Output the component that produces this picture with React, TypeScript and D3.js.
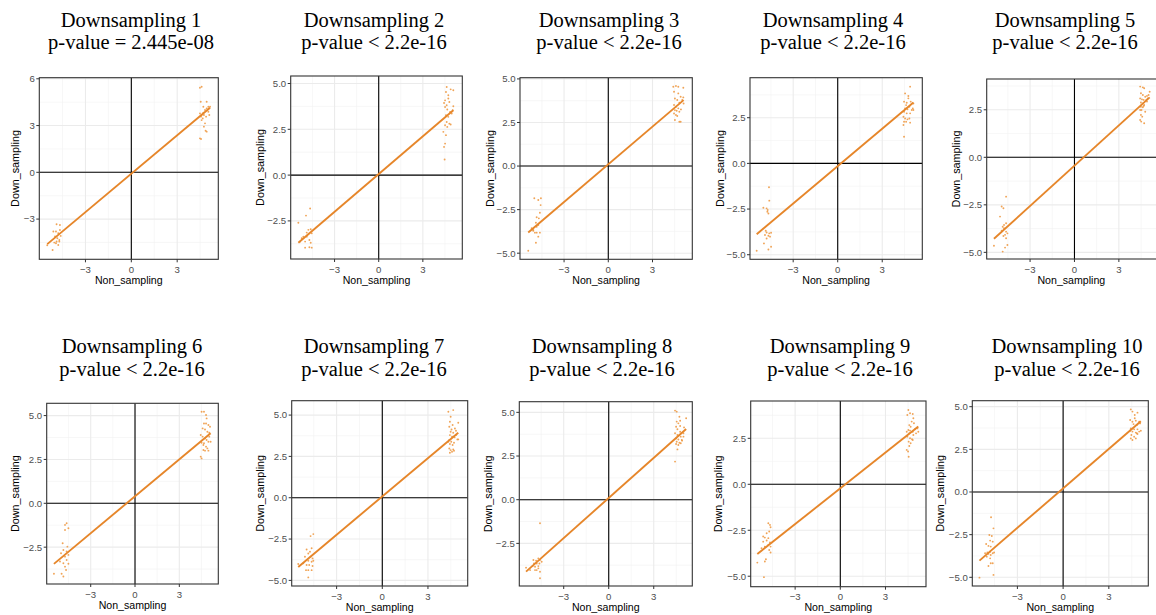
import React from "react";
import * as d3 from "d3";

// ---------------- DATA ----------------
const TITLES = [
  "Downsampling 1", "Downsampling 2", "Downsampling 3", "Downsampling 4", "Downsampling 5",
  "Downsampling 6", "Downsampling 7", "Downsampling 8", "Downsampling 9", "Downsampling 10",
];
const PVALUES = [
  "p-value = 2.445e-08", "p-value < 2.2e-16", "p-value < 2.2e-16", "p-value < 2.2e-16", "p-value < 2.2e-16",
  "p-value < 2.2e-16", "p-value < 2.2e-16", "p-value < 2.2e-16", "p-value < 2.2e-16", "p-value < 2.2e-16",
];
const X_LABEL = "Non_sampling";
const Y_LABEL = "Down_sampling";
const X_TICKS = [-3, 0, 3];
const Y_TICKS = [
  [-3, 0, 3, 6],
  [-2.5, 0, 2.5, 5],
  [-5, -2.5, 0, 2.5, 5],
  [-5, -2.5, 0, 2.5],
  [-5, -2.5, 0, 2.5],
  [-2.5, 0, 2.5, 5],
  [-5, -2.5, 0, 2.5, 5],
  [-2.5, 0, 2.5, 5],
  [-5, -2.5, 0, 2.5],
  [-5, -2.5, 0, 2.5, 5],
];
const X_DOMAINS = [
  [-6.02, 5.69], [-5.98, 5.68], [-5.99, 5.70], [-5.91, 5.70], [-5.93, 5.61],
  [-5.98, 5.64], [-5.95, 5.61], [-5.96, 5.57], [-5.95, 5.69], [-5.96, 5.59],
];
const Y_DOMAINS = [
  [-5.58, 6.07], [-4.58, 5.41], [-5.35, 5.07], [-5.25, 4.69], [-5.35, 4.12],
  [-4.60, 5.70], [-5.34, 5.87], [-4.94, 5.61], [-5.57, 4.53], [-5.51, 5.35],
];
const FIT_INTERCEPTS = [-0.09, 0.06, 0.1, -0.15, -0.44, 0.4, 0.08, 0.1, -0.22, 0.21];
const FIT_SLOPES = [0.821, 0.687, 0.721, 0.682, 0.707, 0.702, 0.773, 0.765, 0.648, 0.771];

const P1 = [
  [4.49, 5.43], [4.6, 5.49], [4.54, 4.53], [4.71, 4.21], [4.93, 4.53], [4.82, 4.0], [4.49, 3.78], [4.6, 3.68],
  [4.71, 3.82], [4.93, 4.1], [5.04, 3.89], [5.15, 4.21], [4.56, 3.57], [4.67, 3.46], [4.75, 3.68], [4.89, 3.57],
  [5.1, 3.68], [4.49, 2.18], [4.56, 2.14], [4.82, 3.14], [4.75, 2.93], [4.86, 2.67], [4.93, 2.61], [4.6, 3.35],
  [5.04, 4.21],
  [-5.15, -4.98], [-4.93, -3.8], [-4.67, -3.38], [-4.89, -3.33], [-4.78, -3.91], [-5.1, -3.8], [-4.99, -4.12],
  [-4.84, -4.23], [-4.71, -4.34], [-4.62, -4.08], [-4.89, -4.44], [-5.04, -4.51], [-4.78, -4.66], [-4.71, -4.44],
  [-4.93, -4.55], [-4.67, -3.7], [-5.5, -4.68],
];
const P2 = [
  [4.62, 4.81], [4.89, 4.68], [5.07, 4.63], [4.57, 4.54], [4.73, 4.36], [4.51, 4.08], [4.44, 3.94], [4.62, 3.81],
  [4.8, 3.99], [5.07, 3.76], [4.51, 3.72], [4.66, 3.58], [4.85, 3.45], [4.96, 3.36], [4.57, 3.27], [4.73, 3.18],
  [4.62, 2.9], [4.8, 2.81], [4.89, 2.76], [4.51, 2.72], [4.66, 2.63], [4.39, 2.36], [4.57, 2.18], [4.51, 1.72],
  [4.44, 1.54], [4.48, 0.85], [5.03, 3.54], [4.73, 4.18],
  [-5.46, -2.6], [-4.66, -1.82], [-4.94, -2.21], [-4.78, -2.99], [-4.62, -2.96], [-4.55, -3.18], [-4.89, -3.36],
  [-5.12, -3.36], [-4.71, -3.54], [-5.0, -3.63], [-4.62, -3.69], [-4.55, -3.96], [-4.71, -3.94], [-5.0, -3.96],
  [-4.89, -3.14], [-5.23, -3.45], [-5.34, -3.63],
];
const P3 = [
  [4.41, 4.55], [4.59, 4.59], [4.75, 4.55], [5.09, 4.49], [4.46, 4.26], [4.75, 4.17], [4.91, 3.98], [4.52, 3.88],
  [4.68, 3.79], [5.09, 3.94], [4.82, 3.63], [4.46, 3.5], [4.59, 3.4], [4.75, 3.31], [4.93, 3.25], [4.52, 3.21],
  [4.64, 3.17], [4.82, 3.12], [4.46, 3.02], [4.59, 2.93], [4.68, 2.87], [4.52, 2.64], [4.82, 2.54], [4.91, 2.54],
  [5.02, 3.79], [5.11, 3.59],
  [-5.43, -4.86], [-5.02, -1.85], [-4.57, -1.85], [-4.75, -1.95], [-4.59, -2.24], [-4.64, -2.68], [-4.71, -3.0],
  [-4.86, -2.94], [-4.91, -3.25], [-5.2, -3.57], [-5.09, -3.67], [-4.86, -3.48], [-4.75, -3.38], [-4.98, -3.82],
  [-4.86, -3.82], [-4.64, -3.82], [-4.75, -4.05], [-4.91, -4.4], [-5.09, -3.71],
];
const P4 = [
  [4.88, 4.2], [4.54, 3.83], [4.76, 3.69], [4.47, 3.38], [4.65, 3.32], [4.92, 3.38], [5.1, 3.28], [4.61, 3.19],
  [4.83, 3.1], [4.54, 3.01], [4.7, 2.96], [4.99, 2.92], [4.47, 2.83], [4.65, 2.74], [4.88, 2.74], [5.1, 2.92],
  [4.43, 2.55], [4.54, 2.46], [4.7, 2.41], [4.83, 2.46], [4.61, 2.28], [4.47, 2.28], [4.88, 2.23], [4.43, 2.1],
  [4.47, 1.46], [5.06, 3.01], [4.76, 3.56],
  [-5.46, -4.78], [-4.63, -1.31], [-4.61, -2.04], [-5.01, -2.43], [-4.79, -2.46], [-4.74, -2.65], [-4.67, -2.74],
  [-4.79, -3.78], [-4.61, -3.83], [-4.49, -3.8], [-4.9, -3.92], [-4.67, -3.96], [-4.79, -4.11], [-4.97, -4.38],
  [-4.49, -4.56], [-4.67, -4.71], [-4.56, -4.01], [-4.85, -3.69], [-4.72, -2.55],
];
const P5 = [
  [4.44, 3.72], [4.62, 3.68], [4.71, 3.63], [4.49, 3.37], [4.62, 3.28], [4.78, 3.19], [4.9, 3.23], [5.01, 3.28],
  [5.08, 3.45], [4.44, 3.1], [4.56, 3.05], [4.67, 3.02], [4.85, 3.02], [4.94, 3.1], [4.49, 2.88], [4.62, 2.84],
  [4.71, 2.75], [4.49, 2.66], [4.62, 2.63], [4.44, 2.49], [4.53, 2.49], [4.78, 2.4], [4.49, 2.23], [4.58, 2.14],
  [4.44, 1.96], [4.51, 1.88], [4.71, 1.79], [4.67, 2.7], [4.9, 2.93],
  [-5.44, -4.65], [-4.85, -4.96], [-4.62, -2.07], [-4.92, -2.59], [-4.8, -2.68], [-5.03, -3.12], [-4.85, -3.65],
  [-4.76, -3.73], [-4.62, -3.91], [-4.69, -4.08], [-4.53, -4.0], [-4.8, -4.14], [-4.62, -4.26], [-4.53, -4.61],
  [-4.69, -4.75], [-4.92, -3.86], [-4.62, -3.47], [-4.76, -3.56],
];
const P6 = [
  [4.51, 5.22], [4.67, 5.22], [4.81, 5.03], [4.85, 4.84], [4.67, 4.55], [4.81, 4.55], [4.97, 4.46], [5.08, 4.36],
  [4.58, 4.27], [4.74, 4.21], [4.9, 4.08], [5.03, 4.02], [4.45, 3.89], [4.58, 3.8], [4.74, 3.7], [4.85, 3.61],
  [4.97, 3.51], [5.12, 3.51], [4.51, 3.45], [4.63, 3.32], [4.81, 3.23], [4.9, 3.13], [4.63, 3.04], [4.74, 3.0],
  [4.97, 3.0], [4.45, 2.66], [4.51, 2.56], [4.67, 3.42], [5.03, 3.8],
  [-5.49, -4.02], [-4.74, -1.23], [-4.63, -1.14], [-4.51, -1.42], [-4.74, -1.52], [-4.9, -2.28], [-4.85, -2.66],
  [-5.01, -2.85], [-4.63, -2.75], [-4.51, -2.94], [-4.74, -3.04], [-4.63, -3.23], [-4.51, -3.45], [-4.85, -3.42],
  [-4.74, -3.61], [-4.67, -3.8], [-4.97, -4.02], [-4.85, -4.17], [-5.08, -3.32], [-4.58, -2.47],
];
const P7 = [
  [4.34, 5.2], [4.66, 5.3], [4.49, 4.9], [4.44, 4.6], [4.62, 4.4], [4.4, 4.29], [4.55, 4.13], [4.77, 4.19],
  [4.99, 4.54], [4.49, 3.99], [4.66, 3.93], [4.84, 4.05], [4.44, 3.79], [4.58, 3.69], [4.75, 3.65], [4.93, 3.53],
  [4.4, 3.49], [4.53, 3.39], [4.71, 3.33], [4.44, 3.25], [4.62, 3.19], [4.4, 2.98], [4.49, 2.88], [4.66, 2.92],
  [4.44, 2.72], [4.58, 2.78], [4.71, 2.84], [4.34, 3.39], [4.84, 3.79], [4.99, 3.53],
  [-5.52, -4.01], [-4.53, -2.2], [-4.71, -2.32], [-4.97, -3.13], [-4.75, -3.27], [-4.64, -3.06], [-4.86, -3.37],
  [-5.08, -3.57], [-4.71, -3.57], [-4.58, -3.67], [-4.86, -3.81], [-4.64, -3.87], [-4.97, -4.07], [-4.8, -4.07],
  [-4.58, -4.13], [-5.01, -4.38], [-4.86, -4.38], [-4.64, -4.38], [-4.86, -4.82], [-5.19, -3.97], [-4.53, -3.81],
];
const P8 = [
  [4.42, 5.1], [4.53, 5.04], [4.71, 4.75], [4.53, 4.47], [4.64, 4.37], [4.76, 4.22], [4.49, 4.18], [4.58, 4.03],
  [4.76, 3.89], [5.02, 4.14], [5.16, 4.66], [4.42, 3.8], [4.58, 3.7], [4.8, 3.61], [4.98, 3.61], [4.49, 3.51],
  [4.64, 3.45], [4.87, 3.42], [4.53, 3.32], [4.71, 3.26], [4.89, 3.38], [4.49, 3.19], [4.64, 3.13], [4.8, 3.23],
  [4.58, 2.88], [4.42, 2.18], [4.98, 3.8], [4.76, 4.52],
  [-5.51, -3.89], [-4.58, -1.35], [-5.02, -3.45], [-4.84, -3.49], [-4.69, -3.36], [-4.58, -3.45], [-4.8, -3.65],
  [-4.62, -3.65], [-4.47, -3.55], [-5.07, -3.8], [-4.91, -3.84], [-4.69, -3.93], [-4.8, -4.03], [-4.58, -4.12],
  [-4.91, -4.03], [-4.69, -3.8], [-4.58, -4.5], [-5.24, -4.03], [-4.98, -3.65],
];
const P9 = [
  [4.52, 4.04], [4.63, 3.86], [4.81, 3.82], [4.45, 3.77], [4.85, 3.59], [4.74, 3.41], [4.89, 3.32], [4.58, 3.22],
  [4.67, 3.13], [4.52, 2.95], [4.63, 2.92], [4.81, 2.86], [4.96, 2.99], [5.12, 3.04], [4.41, 2.86], [4.58, 2.77],
  [4.85, 2.68], [5.03, 2.77], [4.45, 2.59], [4.63, 2.5], [4.76, 2.45], [4.54, 2.32], [4.67, 2.23], [4.41, 1.87],
  [4.5, 1.78], [4.54, 1.5], [4.58, 2.08], [4.81, 2.41], [5.18, 2.86],
  [-5.51, -4.26], [-5.07, -5.05], [-5.12, -2.84], [-4.78, -2.12], [-4.67, -2.21], [-4.63, -2.34], [-4.72, -2.57],
  [-4.89, -2.66], [-5.01, -2.9], [-4.78, -2.93], [-4.89, -3.06], [-4.67, -3.17], [-5.12, -3.12], [-4.63, -3.39],
  [-4.78, -3.3], [-4.72, -3.57], [-4.63, -3.71], [-4.94, -4.08], [-5.01, -4.2], [-5.23, -3.48], [-5.01, -3.39],
];
const P10 = [
  [4.44, 4.84], [4.55, 4.71], [4.88, 4.65], [4.7, 4.51], [4.4, 4.22], [4.55, 4.12], [4.77, 4.18], [4.99, 4.12],
  [4.62, 3.98], [4.84, 3.93], [5.05, 4.02], [4.44, 3.73], [4.66, 3.67], [4.88, 3.67], [5.1, 3.59], [4.55, 3.54],
  [4.77, 3.48], [4.99, 3.54], [4.48, 3.34], [4.66, 3.24], [4.88, 3.4], [4.44, 3.14], [4.55, 3.05], [4.77, 3.14],
  [4.84, 3.44], [4.4, 3.59], [4.7, 4.32],
  [-5.49, -5.02], [-4.73, -1.48], [-4.57, -2.13], [-4.84, -2.52], [-4.68, -2.58], [-4.79, -2.85], [-4.62, -2.91],
  [-4.9, -3.16], [-4.75, -3.2], [-5.05, -3.05], [-4.97, -3.55], [-4.79, -3.5], [-4.62, -3.59], [-4.53, -3.55],
  [-4.9, -3.63], [-4.75, -3.69], [-5.01, -3.79], [-4.79, -3.89], [-4.62, -4.18], [-4.75, -4.18], [-4.9, -4.34],
  [-4.57, -4.86], [-5.12, -3.59],
];
const POINTS = [P1, P2, P3, P4, P5, P6, P7, P8, P9, P10];

// ---------------- LAYOUT ----------------
const W = 1156;
const H = 615;
// panel boxes [left, top, right, bottom]
const BOXES = [
  [39.3, 77.7, 218.3, 259.3],
  [290.7, 76.0, 462.3, 259.0],
  [520.0, 77.7, 692.3, 259.3],
  [750.0, 77.7, 922.3, 259.3],
  [986.7, 79.0, 1157.5, 259.0],
  [46.7, 403.3, 218.3, 584.0],
  [291.7, 400.7, 467.7, 586.0],
  [519.3, 401.7, 692.3, 586.0],
  [750.7, 401.0, 926.0, 586.7],
  [972.3, 400.7, 1148.3, 586.0],
];
const TITLE_CX = [131, 374, 609, 833, 1065, 132, 374, 602, 840, 1067];
const TITLE_Y = [[26.5, 49], [353, 376]];
const YTITLE_CX = [15, 260, 490, 720, 956, 15, 260, 488, 718, 940];

const LINE_COLOR = "#E6862A";
const POINT_COLOR = "#EE9A45";
const SANS = "'Liberation Sans', Arial, Helvetica, sans-serif";
const SERIF = "'Liberation Serif', 'Times New Roman', Times, serif";

function minorBreaks(majors: number[], domain: number[]) {
  const step = majors[1] - majors[0];
  const out: number[] = [];
  const cands = [majors[0] - step / 2, ...majors.map((m) => m + step / 2)];
  cands.forEach((c) => {
    if (c > domain[0] && c < domain[1]) out.push(c);
  });
  return out;
}

function Panel({ i }: { i: number }) {
  const [l, t, r, b] = BOXES[i];
  const x = d3.scaleLinear().domain(X_DOMAINS[i]).range([l, r]);
  const y = d3.scaleLinear().domain(Y_DOMAINS[i]).range([b, t]);
  const pts = POINTS[i];
  const yTicks = Y_TICKS[i];
  const isInt = yTicks.every((v) => Number.isInteger(v));
  const fmt = isInt ? d3.format("d") : d3.format(".1f");
  const xMinor = minorBreaks(X_TICKS, X_DOMAINS[i]);
  const yMinor = minorBreaks(yTicks, Y_DOMAINS[i]);
  const [xmin, xmax] = d3.extent(pts, (d) => d[0]) as [number, number];
  const fit = (v: number) => FIT_INTERCEPTS[i] + FIT_SLOPES[i] * v;
  const line = d3
    .line<number>()
    .x((v) => x(v))
    .y((v) => y(fit(v)));
  const row = i < 5 ? 0 : 1;
  const clipId = `clip${i}`;
  return (
    <g>
      <defs>
        <clipPath id={clipId}>
          <rect x={l} y={t} width={r - l} height={b - t} />
        </clipPath>
      </defs>
      <text x={TITLE_CX[i]} y={TITLE_Y[row][0]} textAnchor="middle" fontFamily={SERIF} fontSize={20.5} fill="#000">
        {TITLES[i]}
      </text>
      <text x={TITLE_CX[i]} y={TITLE_Y[row][1]} textAnchor="middle" fontFamily={SERIF} fontSize={20.5} fill="#000">
        {PVALUES[i]}
      </text>
      <rect x={l} y={t} width={r - l} height={b - t} fill="#fff" />
      <g clipPath={`url(#${clipId})`}>
        {xMinor.map((v) => (
          <line key={`xm${v}`} x1={x(v)} x2={x(v)} y1={t} y2={b} stroke="#F2F2F2" strokeWidth={0.6} />
        ))}
        {yMinor.map((v) => (
          <line key={`ym${v}`} y1={y(v)} y2={y(v)} x1={l} x2={r} stroke="#F2F2F2" strokeWidth={0.6} />
        ))}
        {X_TICKS.map((v) => (
          <line key={`xg${v}`} x1={x(v)} x2={x(v)} y1={t} y2={b} stroke="#EBEBEB" strokeWidth={1.1} />
        ))}
        {yTicks.map((v) => (
          <line key={`yg${v}`} y1={y(v)} y2={y(v)} x1={l} x2={r} stroke="#EBEBEB" strokeWidth={1.1} />
        ))}
        <line x1={l} x2={r} y1={y(0)} y2={y(0)} stroke="#000" strokeWidth={1.1} />
        <line x1={x(0)} x2={x(0)} y1={t} y2={b} stroke="#000" strokeWidth={1.1} />
        {pts.map((d, k) => (
          <circle key={k} cx={x(d[0])} cy={y(d[1])} r={0.95} fill={POINT_COLOR} fillOpacity={0.9} />
        ))}
        <path d={line([xmin, xmax]) || ""} stroke={LINE_COLOR} strokeWidth={1.9} fill="none" />
      </g>
      <rect x={l} y={t} width={r - l} height={b - t} fill="none" stroke="#333" strokeWidth={1.1} />
      {X_TICKS.map((v) => (
        <g key={`xt${v}`}>
          <line x1={x(v)} x2={x(v)} y1={b} y2={b + 3} stroke="#333" strokeWidth={1} />
          <text x={x(v)} y={b + 13.5} textAnchor="middle" fontFamily={SANS} fontSize={9.6} fill="#4D4D4D">
            {d3.format("d")(v)}
          </text>
        </g>
      ))}
      {yTicks.map((v) => (
        <g key={`yt${v}`}>
          <line x1={l - 3} x2={l} y1={y(v)} y2={y(v)} stroke="#333" strokeWidth={1} />
          <text x={l - 4.5} y={y(v) + 3.4} textAnchor="end" fontFamily={SANS} fontSize={9.6} fill="#4D4D4D">
            {fmt(v)}
          </text>
        </g>
      ))}
      <text x={(l + Math.min(r, W)) / 2} y={b + 24.5} textAnchor="middle" fontFamily={SANS} fontSize={10.6} fill="#000">
        {X_LABEL}
      </text>
      <text
        transform={`translate(${YTITLE_CX[i] + 3.5},${(t + b) / 2}) rotate(-90)`}
        textAnchor="middle"
        fontFamily={SANS}
        fontSize={10.8}
        fill="#000"
      >
        {Y_LABEL}
      </text>
    </g>
  );
}

export default function App() {
  return (
    <svg
      width={W}
      height={H}
      viewBox={`0 0 ${W} ${H}`}
      style={{ position: "absolute", left: 0, top: 0, background: "#fff" }}
    >
      <rect x={0} y={0} width={W} height={H} fill="#fff" />
      {POINTS.map((_, i) => (
        <Panel key={i} i={i} />
      ))}
    </svg>
  );
}
